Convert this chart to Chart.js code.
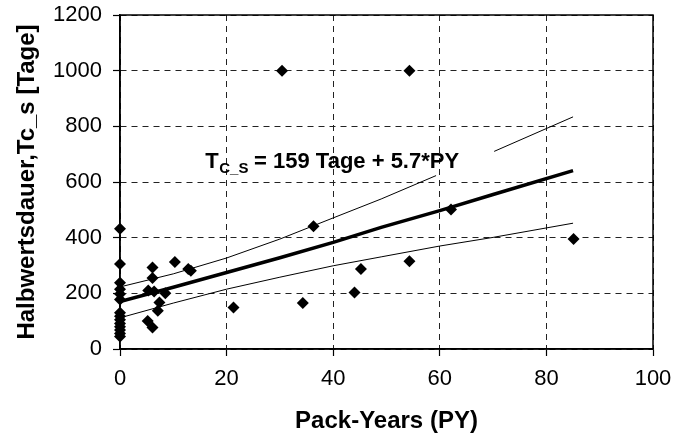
<!DOCTYPE html>
<html>
<head>
<meta charset="utf-8">
<title>Halbwertsdauer vs Pack-Years</title>
<script src="https://cdn.jsdelivr.net/npm/chart.js@4/dist/chart.umd.min.js"></script>
<style>
  html, body { margin: 0; padding: 0; background: #fff; }
  #wrap { width: 688px; height: 441px; }
</style>
</head>
<body>
<div id="wrap"><canvas id="chart" width="688" height="441"></canvas></div>
<script>
// measured points (Pack-Years, Halbwertsdauer in Tage)
const pyValues = [
  0, 0, 0, 0, 0, 0, 0, 0, 0, 0, 0, 0, 0, 0,
  5.2, 6.1, 7.1, 7.4, 5.3, 6.4, 8.5, 6.1, 6.1, 10.3, 12.8, 13.3,
  21.3, 30.4, 34.3, 36.3, 44.0, 45.2, 54.3, 54.3, 62.1, 85.1
];
const tageValues = [
  432, 305, 238, 215, 198, 178, 130, 118, 105, 92, 80, 68, 56, 45,
  101, 77, 137, 167, 210, 207, 200, 293, 255, 313, 287, 281,
  149, 1000, 165, 441, 203, 287, 1000, 315, 501, 395
];

// regression line and band
const fitX = [0, 10, 20, 30, 40, 49, 60, 70, 85];
const fitY = [170, 222, 275, 328, 383, 437, 497, 555, 641];
const upperX1 = [0, 10, 20, 30, 40, 49, 59.3];
const upperY1 = [223, 270, 327, 395, 471, 539, 623];
const upperX2 = [70.2, 85];
const upperY2 = [710, 834];
const lowerX = [0, 10, 20, 30, 40, 49, 60, 70, 85];
const lowerY = [112, 165, 215, 258, 299, 331, 370, 401, 452];

const xTicks = [0, 20, 40, 60, 80, 100];
const yTicks = [0, 200, 400, 600, 800, 1000, 1200];

const eqMain = "= 159 Tage + 5.7*PY";
const eqSub = "C_S";
const eqAt = { x: 16, y: 652 }; // left/baseline of the equation in data units

const FONT = "'Liberation Sans', Arial, Helvetica, sans-serif";

function toPoints(xs, ys) {
  return xs.map((x, i) => ({ x: x, y: ys[i] }));
}

function lineSet(xs, ys, width) {
  return {
    data: toPoints(xs, ys),
    showLine: true,
    borderColor: "#000",
    borderWidth: width,
    pointRadius: 0,
    fill: false,
    tension: 0,
  };
}

// frame around the plot area + the equation text
const framePlugin = {
  id: "frame",
  afterDatasetsDraw(chart) {
    const { ctx, chartArea: a, scales } = chart;
    ctx.save();
    ctx.strokeStyle = "#000";
    ctx.lineWidth = 1.5;
    ctx.strokeRect(a.left, a.top, a.right - a.left, a.bottom - a.top);

    const x0 = scales.x.getPixelForValue(eqAt.x);
    const y0 = scales.y.getPixelForValue(eqAt.y);
    ctx.fillStyle = "#000";
    ctx.textBaseline = "alphabetic";
    ctx.textAlign = "left";
    ctx.font = "bold 22px " + FONT;
    ctx.fillText("T", x0, y0);
    const tw = ctx.measureText("T").width;
    ctx.font = "bold 15px " + FONT;
    ctx.fillText(eqSub, x0 + tw + 0.5, y0 + 5);
    const sw = ctx.measureText(eqSub + " ").width;
    ctx.font = "bold 22px " + FONT;
    ctx.fillText(eqMain, x0 + tw + sw + 2, y0);
    ctx.restore();
  },
};

new Chart(document.getElementById("chart"), {
  type: "scatter",
  data: {
    datasets: [
      lineSet(upperX1, upperY1, 1),
      lineSet(upperX2, upperY2, 1),
      lineSet(lowerX, lowerY, 1),
      lineSet(fitX, fitY, 3.5),
      {
        data: toPoints(pyValues, tageValues),
        pointStyle: "rectRot",
        pointRadius: 6,
        pointBackgroundColor: "#000",
        pointBorderColor: "#000",
        pointBorderWidth: 0,
        showLine: false,
        clip: false,
      },
    ],
  },
  options: {
    responsive: false,
    animation: false,
    events: [],
    layout: { padding: { top: 15, right: 35, left: 0, bottom: 0 } },
    plugins: { legend: { display: false }, tooltip: { enabled: false } },
    scales: {
      x: {
        type: "linear",
        min: 0,
        max: 100,
        afterBuildTicks: (s) => { s.ticks = xTicks.map((v) => ({ value: v })); },
        afterFit: (s) => { s.height = 92; s.paddingLeft = 0; s.paddingRight = 0; },
        ticks: { color: "#000", font: { family: FONT, size: 22 }, padding: 10, callback: (v) => String(v) },
        grid: { color: "#222", lineWidth: 1, tickLength: 7, tickColor: "#000", tickWidth: 1.2 },
        border: { display: true, color: "#000", width: 1.5, dash: [6, 5] },
        title: {
          display: true,
          text: "Pack-Years (PY)",
          color: "#000",
          font: { family: FONT, size: 24, weight: "bold" },
          padding: { top: 4, bottom: 5 },
        },
      },
      y: {
        type: "linear",
        min: 0,
        max: 1200,
        afterBuildTicks: (s) => { s.ticks = yTicks.map((v) => ({ value: v })); },
        afterFit: (s) => { s.width = 120; s.paddingTop = 0; s.paddingBottom = 0; },
        ticks: { color: "#000", font: { family: FONT, size: 22 }, padding: 11, callback: (v) => String(v) },
        grid: { color: "#222", lineWidth: 1, tickLength: 7, tickColor: "#000", tickWidth: 1.2 },
        border: { display: true, color: "#000", width: 1.5, dash: [6, 5] },
        title: {
          display: true,
          text: "Halbwertsdauer,Tc_s [Tage]",
          color: "#000",
          font: { family: FONT, size: 24, weight: "bold" },
          padding: { top: 13, bottom: 4 },
        },
      },
    },
  },
  plugins: [framePlugin],
});
</script>
</body>
</html>
